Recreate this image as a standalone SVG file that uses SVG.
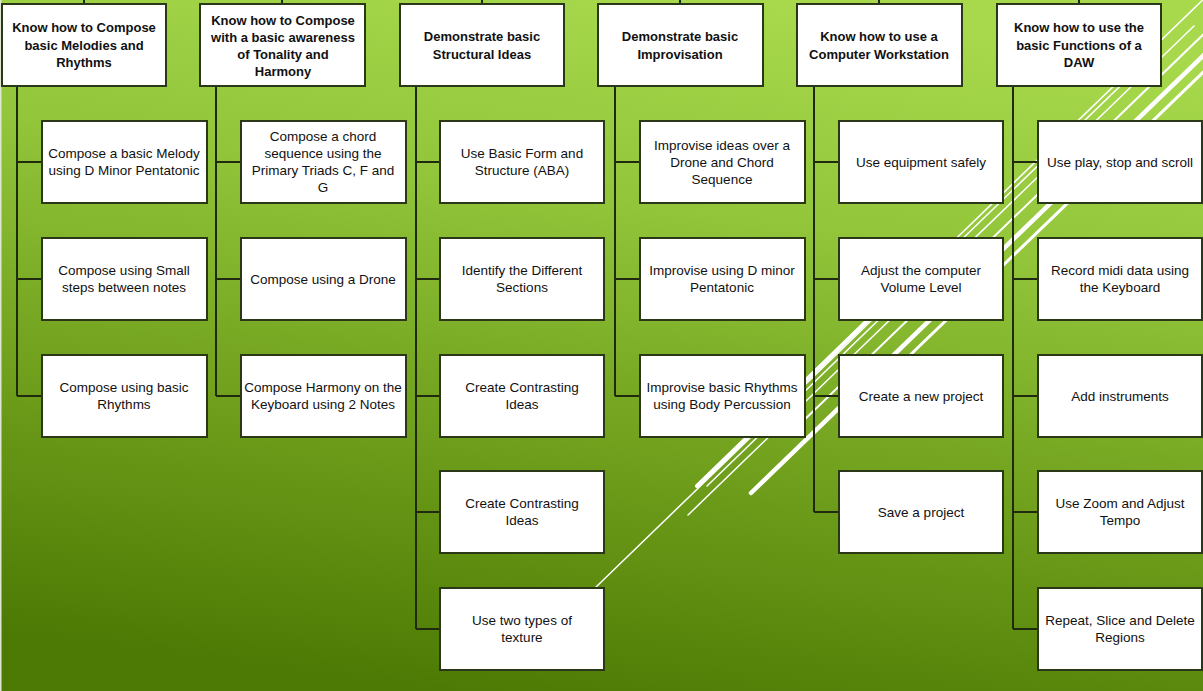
<svg xmlns="http://www.w3.org/2000/svg" width="1203" height="691" viewBox="0 0 1203 691">
  <defs>
    <linearGradient id="bg" x1="0.62" y1="0" x2="0.38" y2="1">
      <stop offset="0" stop-color="#a8d94d"/>
      <stop offset="0.3" stop-color="#92c53a"/>
      <stop offset="0.62" stop-color="#72a21e"/>
      <stop offset="1" stop-color="#4d7a04"/>
    </linearGradient>
    <style>
      .box { fill: #ffffff; stroke: #2b3818; stroke-width: 2; }
      .wire { fill: none; stroke: #1f2a0e; stroke-width: 2; }
      .streak { stroke: #ffffff; stroke-linecap: round; fill: none; }
      .hd { font-family: "Liberation Sans", "DejaVu Sans", sans-serif; font-size: 13px; font-weight: bold; fill: #111111; text-anchor: middle; }
      .tx { font-family: "Liberation Sans", "DejaVu Sans", sans-serif; font-size: 13.5px; fill: #111111; text-anchor: middle; }
    </style>
  </defs>

  <!-- background -->
  <rect x="0" y="0" width="1203" height="691" fill="url(#bg)"/>
  <rect x="0" y="0" width="1.5" height="691" fill="#dfe6d6"/>

  <!-- decorative white streaks -->
  <g id="streaks">
    <line class="streak" stroke-width="1.5" x1="596" y1="587" x2="1214" y2="-11"/>
    <line class="streak" stroke-width="4" x1="697" y1="486" x2="903" y2="286"/>
    <line class="streak" stroke-width="1.5" x1="707" y1="486" x2="1145" y2="62"/>
    <line class="streak" stroke-width="1.5" x1="688" y1="515" x2="1194" y2="26"/>
    <line class="streak" stroke-width="2" x1="800" y1="424" x2="1210" y2="28"/>
    <line class="streak" stroke-width="4.5" x1="751" y1="493" x2="1271" y2="-10"/>
    <line class="streak" stroke-width="3" x1="905" y1="360" x2="1279" y2="-1"/>
  </g>

  <!-- connectors -->
  <g id="connectors">
    <!-- stubs above the headers -->
    <path class="wire" d="M84 0V4 M282 0V4 M482 0V4 M680 0V4 M879 0V4 M1079 0V4"/>
    <!-- column 1 -->
    <path class="wire" d="M17 86V396 M17 162H42 M17 279H42 M17 396H42"/>
    <!-- column 2 -->
    <path class="wire" d="M216 86V396 M216 162H241 M216 279H241 M216 396H241"/>
    <!-- column 3 -->
    <path class="wire" d="M416 86V629 M416 162H440 M416 279H440 M416 396H440 M416 512H440 M416 629H440"/>
    <!-- column 4 -->
    <path class="wire" d="M615 86V396 M615 162H640 M615 279H640 M615 396H640"/>
    <!-- column 5 -->
    <path class="wire" d="M814 86V512 M814 162H839 M814 279H839 M814 396H839 M814 512H839"/>
    <!-- column 6 -->
    <path class="wire" d="M1013 86V629 M1013 162H1038 M1013 279H1038 M1013 396H1038 M1013 512H1038 M1013 629H1038"/>
  </g>

  <!-- headers -->
  <g id="h1">
    <rect class="box" x="2" y="4" width="164" height="82"/>
    <text class="hd"><tspan x="84" y="32">Know how to Compose</tspan><tspan x="84" y="49.5">basic Melodies and</tspan><tspan x="84" y="67">Rhythms</tspan></text>
  </g>
  <g id="h2">
    <rect class="box" x="200" y="4" width="165" height="82"/>
    <text class="hd"><tspan x="283" y="24.5">Know how to Compose</tspan><tspan x="283" y="41.5">with a basic awareness</tspan><tspan x="283" y="58.5">of Tonality and</tspan><tspan x="283" y="75.5">Harmony</tspan></text>
  </g>
  <g id="h3">
    <rect class="box" x="400" y="4" width="164" height="82"/>
    <text class="hd"><tspan x="482" y="41">Demonstrate basic</tspan><tspan x="482" y="58.5">Structural Ideas</tspan></text>
  </g>
  <g id="h4">
    <rect class="box" x="598" y="4" width="165" height="82"/>
    <text class="hd"><tspan x="680" y="41">Demonstrate basic</tspan><tspan x="680" y="58.5">Improvisation</tspan></text>
  </g>
  <g id="h5">
    <rect class="box" x="797" y="4" width="165" height="82"/>
    <text class="hd"><tspan x="879" y="41">Know how to use a</tspan><tspan x="879" y="58.5">Computer Workstation</tspan></text>
  </g>
  <g id="h6">
    <rect class="box" x="997" y="4" width="164" height="82"/>
    <text class="hd"><tspan x="1079" y="32">Know how to use the</tspan><tspan x="1079" y="49.5">basic Functions of a</tspan><tspan x="1079" y="67">DAW</tspan></text>
  </g>

  <!-- column 1 -->
  <g id="c1r1">
    <rect class="box" x="42" y="121" width="165" height="82"/>
    <text class="tx"><tspan x="124" y="158">Compose a basic Melody</tspan><tspan x="124" y="175">using D Minor Pentatonic</tspan></text>
  </g>
  <g id="c1r2">
    <rect class="box" x="42" y="238" width="165" height="82"/>
    <text class="tx"><tspan x="124" y="275">Compose using Small</tspan><tspan x="124" y="292">steps between notes</tspan></text>
  </g>
  <g id="c1r3">
    <rect class="box" x="42" y="355" width="165" height="82"/>
    <text class="tx"><tspan x="124" y="392">Compose using basic</tspan><tspan x="124" y="409">Rhythms</tspan></text>
  </g>

  <!-- column 2 -->
  <g id="c2r1">
    <rect class="box" x="241" y="121" width="165" height="82"/>
    <text class="tx"><tspan x="323" y="140.5">Compose a chord</tspan><tspan x="323" y="157.5">sequence using the</tspan><tspan x="323" y="174.5">Primary Triads C, F and</tspan><tspan x="323" y="191.5">G</tspan></text>
  </g>
  <g id="c2r2">
    <rect class="box" x="241" y="238" width="165" height="82"/>
    <text class="tx"><tspan x="323" y="284">Compose using a Drone</tspan></text>
  </g>
  <g id="c2r3">
    <rect class="box" x="241" y="355" width="165" height="82"/>
    <text class="tx"><tspan x="323" y="392">Compose Harmony on the</tspan><tspan x="323" y="409">Keyboard using 2 Notes</tspan></text>
  </g>

  <!-- column 3 -->
  <g id="c3r1">
    <rect class="box" x="440" y="121" width="164" height="82"/>
    <text class="tx"><tspan x="522" y="158">Use Basic Form and</tspan><tspan x="522" y="175">Structure (ABA)</tspan></text>
  </g>
  <g id="c3r2">
    <rect class="box" x="440" y="238" width="164" height="82"/>
    <text class="tx"><tspan x="522" y="275">Identify the Different</tspan><tspan x="522" y="292">Sections</tspan></text>
  </g>
  <g id="c3r3">
    <rect class="box" x="440" y="355" width="164" height="82"/>
    <text class="tx"><tspan x="522" y="392">Create Contrasting</tspan><tspan x="522" y="409">Ideas</tspan></text>
  </g>
  <g id="c3r4">
    <rect class="box" x="440" y="471" width="164" height="82"/>
    <text class="tx"><tspan x="522" y="508">Create Contrasting</tspan><tspan x="522" y="525">Ideas</tspan></text>
  </g>
  <g id="c3r5">
    <rect class="box" x="440" y="588" width="164" height="82"/>
    <text class="tx"><tspan x="522" y="625">Use two types of</tspan><tspan x="522" y="642">texture</tspan></text>
  </g>

  <!-- column 4 -->
  <g id="c4r1">
    <rect class="box" x="640" y="121" width="165" height="82"/>
    <text class="tx"><tspan x="722" y="149.5">Improvise ideas over a</tspan><tspan x="722" y="166.5">Drone and Chord</tspan><tspan x="722" y="184">Sequence</tspan></text>
  </g>
  <g id="c4r2">
    <rect class="box" x="640" y="238" width="165" height="82"/>
    <text class="tx"><tspan x="722" y="275">Improvise using D minor</tspan><tspan x="722" y="292">Pentatonic</tspan></text>
  </g>
  <g id="c4r3">
    <rect class="box" x="640" y="355" width="165" height="82"/>
    <text class="tx"><tspan x="722" y="392">Improvise basic Rhythms</tspan><tspan x="722" y="409">using Body Percussion</tspan></text>
  </g>

  <!-- column 5 -->
  <g id="c5r1">
    <rect class="box" x="839" y="121" width="164" height="82"/>
    <text class="tx"><tspan x="921" y="166.5">Use equipment safely</tspan></text>
  </g>
  <g id="c5r2">
    <rect class="box" x="839" y="238" width="164" height="82"/>
    <text class="tx"><tspan x="921" y="275">Adjust the computer</tspan><tspan x="921" y="292">Volume Level</tspan></text>
  </g>
  <g id="c5r3">
    <rect class="box" x="839" y="355" width="164" height="82"/>
    <text class="tx"><tspan x="921" y="401">Create a new project</tspan></text>
  </g>
  <g id="c5r4">
    <rect class="box" x="839" y="471" width="164" height="82"/>
    <text class="tx"><tspan x="921" y="517">Save a project</tspan></text>
  </g>

  <!-- column 6 -->
  <g id="c6r1">
    <rect class="box" x="1038" y="121" width="164" height="82"/>
    <text class="tx"><tspan x="1120" y="166.5">Use play, stop and scroll</tspan></text>
  </g>
  <g id="c6r2">
    <rect class="box" x="1038" y="238" width="164" height="82"/>
    <text class="tx"><tspan x="1120" y="275">Record midi data using</tspan><tspan x="1120" y="292">the Keyboard</tspan></text>
  </g>
  <g id="c6r3">
    <rect class="box" x="1038" y="355" width="164" height="82"/>
    <text class="tx"><tspan x="1120" y="401">Add instruments</tspan></text>
  </g>
  <g id="c6r4">
    <rect class="box" x="1038" y="471" width="164" height="82"/>
    <text class="tx"><tspan x="1120" y="508">Use Zoom and Adjust</tspan><tspan x="1120" y="525">Tempo</tspan></text>
  </g>
  <g id="c6r5">
    <rect class="box" x="1038" y="588" width="164" height="82"/>
    <text class="tx"><tspan x="1120" y="625">Repeat, Slice and Delete</tspan><tspan x="1120" y="642">Regions</tspan></text>
  </g>
</svg>
